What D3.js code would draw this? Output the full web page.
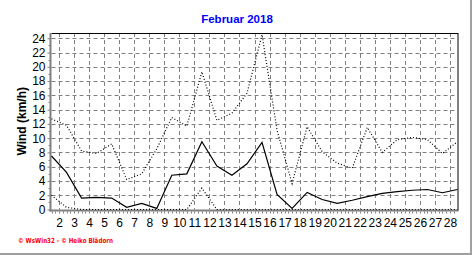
<!DOCTYPE html>
<html><head><meta charset="utf-8">
<script src="https://cdn.jsdelivr.net/npm/d3@7"></script>
<style>
html,body{margin:0;padding:0;background:#fff;}
svg{display:block;}
</style></head>
<body>
<script>
// ---- data ----
const title = "Februar 2018";
const yLabel = "Wind  (km/h)";
const footer = "\u00A9 WsWin32  -  \u00A9 Heiko Blädorn";
const days = d3.range(1, 29);
const windAvg = [7.5, 5.2, 1.6, 1.7, 1.6, 0.3, 0.85, 0.15, 4.8, 5.0, 9.5, 6.1, 4.8, 6.4, 9.4, 2.1, 0.15, 2.4, 1.4, 0.85, 1.3, 1.8, 2.25, 2.5, 2.7, 2.8, 2.35, 2.8];
const windMax = [12.7, 11.8, 8.2, 7.85, 9.2, 4.2, 5.0, 8.5, 12.9, 11.7, 19.3, 12.5, 13.5, 16.3, 24.5, 11.1, 3.65, 11.6, 8.1, 6.5, 5.8, 11.5, 8.0, 9.8, 10.1, 9.8, 7.85, 9.5];
const windMin = [2.0, 0.3, 0, 0, 0, 0, 0, 0, 0, 0, 3.0, 0, 0, 0, 0, 0, 0, 0, 0, 0, 0, 0, 0, 0, 0, 0, 0, 0];
const xTicks = d3.range(2, 29);
const yTicks = d3.range(0, 25, 2);

// ---- layout ----
const W = 472, H = 255;
const L = 51.5, R = 457.5, T = 33, B = 209.5;
const svg = d3.select("body").append("svg").attr("width", W).attr("height", H);

const x = d3.scaleLinear().domain([1.5, 28.5]).range([L, R]);
const y = d3.scaleLinear().domain([0, 24.74]).range([B, T]);
const dayX = d => x(d + 0.5);

// outer border (right and bottom)
svg.append("line").attr("x1", 471).attr("x2", 471).attr("y1", 0).attr("y2", H).attr("stroke", "#a0a0a0").attr("stroke-width", 2);
svg.append("line").attr("x1", 0).attr("x2", W).attr("y1", 254).attr("y2", 254).attr("stroke", "#a0a0a0").attr("stroke-width", 2);

// title
svg.append("text").attr("x", 237).attr("y", 23).attr("text-anchor", "middle")
  .attr("font-family", "Liberation Sans, Arial, sans-serif").attr("font-weight", "bold")
  .attr("font-size", 11.5).attr("fill", "#0000ff").text(title);

// grid
const grid = svg.append("g").attr("stroke", "#808080").attr("stroke-width", 1).attr("stroke-dasharray", "4,3");
grid.selectAll("line.h").data(yTicks.filter(v => v > 0)).join("line")
  .attr("x1", L).attr("x2", R).attr("y1", v => Math.round(y(v)) + 0.5).attr("y2", v => Math.round(y(v)) + 0.5);
grid.selectAll("line.v").data(xTicks).join("line")
  .attr("x1", v => Math.round(x(v)) + 0.5).attr("x2", v => Math.round(x(v)) + 0.5).attr("y1", T).attr("y2", B);

// frame top/right
svg.append("line").attr("x1", L).attr("x2", R + 0.5).attr("y1", T + 0.5).attr("y2", T + 0.5).attr("stroke", "#000");
svg.append("line").attr("x1", R + 0.5).attr("x2", R + 0.5).attr("y1", T).attr("y2", B + 1).attr("stroke", "#000");

// y axis
const yAxis = d3.axisLeft(y).tickValues(yTicks).tickSize(3).tickPadding(2).tickFormat(d3.format("d"));
const gy = svg.append("g").attr("transform", `translate(${L - 1},0)`).call(yAxis);
gy.select(".domain").attr("stroke", "#808080").attr("stroke-width", 2).attr("d", `M0,${T}V${B + 2}`);
gy.selectAll(".tick line").attr("stroke", "#808080");
gy.selectAll(".tick text").attr("font-family", "Liberation Sans, Arial, sans-serif").attr("font-size", 12).attr("fill", "#000");
// y minor ticks
svg.append("g").selectAll("line").data(d3.range(1, 25, 2)).join("line")
  .attr("x1", L - 3).attr("x2", L - 1).attr("y1", v => Math.round(y(v)) + 0.5).attr("y2", v => Math.round(y(v)) + 0.5)
  .attr("stroke", "#808080");

// x axis
const xAxis = d3.axisBottom(x).tickValues(xTicks).tickSize(0).tickPadding(8).tickFormat(d3.format("d"));
const gx = svg.append("g").attr("transform", `translate(0,${B + 1})`).call(xAxis);
gx.select(".domain").attr("stroke", "#808080").attr("stroke-width", 2).attr("d", `M${L - 2},0H${R + 1}`);
gx.selectAll(".tick text").attr("font-family", "Liberation Sans, Arial, sans-serif").attr("font-size", 12).attr("fill", "#000");
// x minor ticks (quarter days)
svg.append("g").selectAll("line").data(d3.range(1.5, 28.5, 0.25)).join("line")
  .attr("x1", v => Math.round(x(v)) + 0.5).attr("x2", v => Math.round(x(v)) + 0.5)
  .attr("y1", B + 2).attr("y2", B + 4).attr("stroke", "#808080");

// y label
svg.append("text").attr("transform", `translate(26,${(T + B) / 2}) rotate(-90)`).attr("text-anchor", "middle")
  .attr("font-family", "Liberation Sans, Arial, sans-serif").attr("font-weight", "bold").attr("font-size", 12)
  .attr("fill", "#000").text(yLabel);

// lines
const line = d3.line().x((v, i) => dayX(days[i])).y(v => y(v));
svg.append("path").datum(windMax).attr("d", line).attr("fill", "none").attr("stroke", "#000").attr("stroke-width", 1.2).attr("stroke-dasharray", "1,2");
svg.append("path").datum(windMin).attr("d", line).attr("fill", "none").attr("stroke", "#000").attr("stroke-width", 1.2).attr("stroke-dasharray", "1,2");
svg.append("path").datum(windAvg).attr("d", line).attr("fill", "none").attr("stroke", "#000").attr("stroke-width", 1.2);

// footer
svg.append("text").attr("x", 18).attr("y", 243)
  .attr("font-family", "DejaVu Sans, Verdana, sans-serif").attr("font-weight", "bold").attr("font-size", 7)
  .attr("textLength", 95).attr("lengthAdjust", "spacingAndGlyphs")
  .attr("fill", "#ff0000").text(footer);
</script>
</body></html>
